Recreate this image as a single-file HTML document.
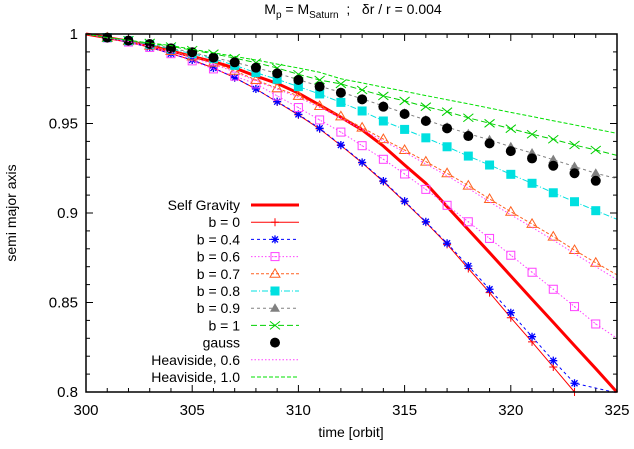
<!DOCTYPE html>
<html><head><meta charset="utf-8"><style>
body{margin:0;background:#fff}
svg text{font-family:"Liberation Sans",sans-serif;fill:#000}
</style></head><body>
<svg id="chart" width="634" height="444" xmlns="http://www.w3.org/2000/svg">
<text x="353" y="14" font-size="14" text-anchor="middle">M<tspan font-size="10" dy="4">p</tspan><tspan dy="-4"> = M</tspan><tspan font-size="10" dy="4">Saturn</tspan><tspan dy="-4" xml:space="preserve">  ;   δr / r = 0.004</tspan></text>
<text x="0" y="0" font-size="14" text-anchor="middle" transform="translate(16,213) rotate(-90)">semi major axis</text>
<text x="351" y="437" font-size="14" text-anchor="middle">time [orbit]</text>
<g id="axes"></g><g id="series"></g><g id="legend"></g>
<rect x="86" y="34" width="531" height="358" fill="none" stroke="#000" stroke-width="1.5"/>
</svg>
<script>
const T = [301,302,303,304,305,306,307,308,309,310,311,312,313,314,315,316,317,318,319,320,321,322,323,324];
const xTicks = [300,305,310,315,320,325];
const yTicks = [0.8,0.85,0.9,0.95,1];
const selfGravT = [300,301,302,303,304,305,306,307,308,309,310,311,312,313,314,315,316,317,318,319,320,321,322,323,324,325];
const selfGrav = [1,0.998,0.996,0.9935,0.9905,0.9875,0.9845,0.981,0.9765,0.9724,0.9669,0.9603,0.9535,0.9464,0.9374,0.9268,0.9166,0.9036,0.8907,0.8778,0.8648,0.8518,0.8389,0.8259,0.813,0.7999];
const b0 = [0.9978,0.9955,0.9925,0.989,0.9855,0.981,0.9756,0.9693,0.962,0.9548,0.947,0.9377,0.928,0.9175,0.9063,0.8948,0.8825,0.869,0.8555,0.8415,0.828,0.814,0.8,0.786];
const b04 = [0.9978,0.9955,0.9925,0.989,0.9855,0.981,0.9756,0.9693,0.9622,0.9551,0.9473,0.938,0.9283,0.9179,0.9066,0.8951,0.8831,0.8704,0.8574,0.8443,0.8309,0.8175,0.8049,0.792];
const b06 = [0.9978,0.9955,0.9925,0.989,0.985,0.9805,0.9765,0.9721,0.9654,0.9589,0.952,0.9452,0.9376,0.93,0.9218,0.9132,0.9043,0.8951,0.8858,0.8764,0.8669,0.8574,0.8477,0.838];
const b07 = [0.998,0.996,0.9935,0.9905,0.9875,0.984,0.9795,0.9743,0.9697,0.9654,0.9598,0.954,0.9477,0.9413,0.9352,0.9287,0.9222,0.9153,0.9078,0.9007,0.8939,0.8868,0.8793,0.8722];
const b08 = [0.998,0.9962,0.9942,0.9917,0.989,0.9862,0.9825,0.9784,0.9747,0.9706,0.9665,0.9618,0.957,0.9514,0.9467,0.942,0.937,0.9318,0.9268,0.9216,0.9166,0.9113,0.9063,0.9013];
const b09 = [0.998,0.9963,0.9944,0.992,0.9898,0.9868,0.9842,0.9812,0.978,0.9745,0.9708,0.9675,0.9638,0.9598,0.9558,0.952,0.948,0.9443,0.9409,0.937,0.9335,0.9298,0.926,0.9222];
const gauss = [0.998,0.9963,0.9944,0.992,0.9898,0.9868,0.9842,0.9812,0.978,0.9743,0.9706,0.9672,0.9635,0.9594,0.9553,0.9514,0.9473,0.943,0.9389,0.9346,0.9305,0.9264,0.9222,0.918];
const b1 = [0.998,0.9965,0.995,0.993,0.991,0.989,0.9865,0.984,0.981,0.9775,0.9743,0.9721,0.9687,0.9654,0.9626,0.9594,0.9566,0.9532,0.9501,0.9471,0.944,0.9412,0.938,0.9352];
const heav06 = [0.9978,0.9958,0.993,0.99,0.9868,0.9832,0.9788,0.9738,0.9692,0.9646,0.959,0.953,0.9467,0.9402,0.934,0.9274,0.9208,0.9138,0.9062,0.899,0.892,0.8848,0.8773,0.87];
const heav10 = [0.998,0.9965,0.995,0.9935,0.9915,0.9895,0.9875,0.9855,0.9832,0.981,0.9786,0.975,0.9727,0.9703,0.968,0.9656,0.9633,0.961,0.9586,0.9562,0.9539,0.9515,0.9492,0.9468];
const endVals = {b0:null,b04:0.7995,b06:0.83,b07:0.8655,b08:0.8965,b09:0.9192,b1:0.9322,heav06:0.8628,heav10:0.9445};

const X = t => 86 + (t-300)*531/25;
const Y = v => 34 + (1-v)*358/0.2;
const NS = 'http://www.w3.org/2000/svg';
function mk(tag, parent, attrs){const e=document.createElementNS(NS,tag);for(const k in attrs)e.setAttribute(k,attrs[k]);parent.appendChild(e);return e;}
const axes=document.getElementById('axes'), series=document.getElementById('series'), legend=document.getElementById('legend');

for(let t=300;t<=325;t++){
  const major = (t%5===0), L = major?7:4;
  const a=mk('line',axes,{x1:X(t),x2:X(t),y1:392,y2:392-L,stroke:'#000'});
  
  
  const b=mk('line',axes,{x1:X(t),x2:X(t),y1:34,y2:34+L,stroke:'#000'});
  
  
}
xTicks.forEach(t=>{
  const e=mk('text',axes,{x:X(t),y:415,'font-size':15,'text-anchor':'middle'});
  e.textContent=t;
  
  
});
for(let i=0;i<=20;i++){
  const v=0.8+i*0.01, major=(i%5===0), L=major?7:4;
  const a=mk('line',axes,{x1:86,x2:86+L,y1:Y(v),y2:Y(v),stroke:'#000'});
  
  
  const b=mk('line',axes,{x1:617,x2:617-L,y1:Y(v),y2:Y(v),stroke:'#000'});
  
  
}
yTicks.forEach(v=>{
  const e=mk('text',axes,{x:78,y:Y(v)+5,'font-size':15,'text-anchor':'end'});
  e.textContent=(v===1?'1':v.toFixed(2).replace(/0$/,''));
  
  
});

function clipPath(ts, vs){
  return ts.map((t,i)=>[X(t),Y(vs[i])]).filter(p=>p[1]<=393).map(p=>p[0].toFixed(1)+','+p[1].toFixed(1)).join(' ');
}
function marker(g,type,cx,cy,color){
  const s=4;
  if(type==='plus'){mk('path',g,{d:`M${cx-s},${cy}H${cx+s}M${cx},${cy-s}V${cy+s}`,stroke:color,fill:'none'});}
  else if(type==='star'){mk('path',g,{d:`M${cx-s},${cy}H${cx+s}M${cx},${cy-s}V${cy+s}M${cx-3},${cy-3}L${cx+3},${cy+3}M${cx-3},${cy+3}L${cx+3},${cy-3}`,stroke:color,fill:'none','stroke-width':1.3});}
  else if(type==='osq'){mk('rect',g,{x:cx-4,y:cy-4,width:8,height:8,stroke:color,fill:'none'});mk('circle',g,{cx:cx,cy:cy,r:0.6,fill:color});}
  else if(type==='otri'){mk('path',g,{d:`M${cx},${cy-5}L${cx+5},${cy+3.5}L${cx-5},${cy+3.5}Z`,stroke:color,fill:'none'});}
  else if(type==='fsq'){mk('rect',g,{x:cx-4.5,y:cy-4.5,width:9,height:9,fill:color});}
  else if(type==='ftri'){mk('path',g,{d:`M${cx},${cy-5}L${cx+5},${cy+3.5}L${cx-5},${cy+3.5}Z`,fill:color});}
  else if(type==='x'){mk('path',g,{d:`M${cx-5},${cy-4}L${cx+5},${cy+4}M${cx-5},${cy+4}L${cx+5},${cy-4}`,stroke:color,fill:'none'});}
  else if(type==='dot'){mk('circle',g,{cx:cx,cy:cy,r:5,fill:color});}
}
const defs=[
 {name:'Self Gravity',key:'self-gravity',vals:null,color:'#ff0000',w:3,dash:'',m:null},
 {name:'b = 0',key:'b-0',vals:b0,color:'#ff0000',w:1,dash:'',m:'plus'},
 {name:'b = 0.4',key:'b-0.4',vals:b04,color:'#0000ff',w:1,dash:'3,3',m:'star',end:endVals.b04},
 {name:'b = 0.6',key:'b-0.6',vals:b06,color:'#ff40ff',w:1,dash:'1.5,2',m:'osq',end:endVals.b06},
 {name:'b = 0.7',key:'b-0.7',vals:b07,color:'#ff6020',w:1,dash:'3,2',m:'otri',end:endVals.b07},
 {name:'b = 0.8',key:'b-0.8',vals:b08,color:'#00e0e0',w:1,dash:'6,2,1,2',m:'fsq',end:endVals.b08},
 {name:'b = 0.9',key:'b-0.9',vals:b09,color:'#808080',w:1,dash:'3,3',m:'ftri',end:endVals.b09},
 {name:'b = 1',key:'b-1',vals:b1,color:'#00d000',w:1,dash:'6,3',m:'x',end:endVals.b1},
 {name:'gauss',key:'gauss',vals:gauss,color:'#000000',w:0,dash:'',m:'dot'},
 {name:'Heaviside, 0.6',key:'heaviside-0.6',vals:heav06,color:'#ff40ff',w:1,dash:'1.5,2',m:null,end:endVals.heav06},
 {name:'Heaviside, 1.0',key:'heaviside-1.0',vals:heav10,color:'#00e000',w:1,dash:'4,2',m:null,end:endVals.heav10},
];
defs.forEach((d,i)=>{
  const g=mk('g',series,{});
  
  
  let ts,vs;
  if(d.vals===null){ts=selfGravT;vs=selfGrav;}
  else{ts=[300].concat(T);vs=[1].concat(d.vals);if(d.end){ts=ts.concat([325]);vs=vs.concat([d.end]);}}
  if(d.w>0){const p=mk('polyline',g,{points:clipPath(ts,vs),fill:'none',stroke:d.color,'stroke-width':d.w,'stroke-dasharray':d.dash,'stroke-linejoin':'round'});
    
    }
  if(d.m){T.forEach((t,j)=>{const y=Y(d.vals[j]);if(y<=393)marker(g,d.m,X(t),y,d.color);});}
  const ly=205+i*17.2;
  const lg=mk('g',legend,{});
  
  
  const tx=mk('text',lg,{x:240,y:ly+5,'font-size':14,'text-anchor':'end'});
  tx.textContent=d.name;
  if(d.w>0)mk('line',lg,{x1:251,x2:299,y1:ly,y2:ly,stroke:d.color,'stroke-width':d.w,'stroke-dasharray':d.dash});
  if(d.m)marker(lg,d.m,275,ly,d.color);
});
</script>
</body></html>
